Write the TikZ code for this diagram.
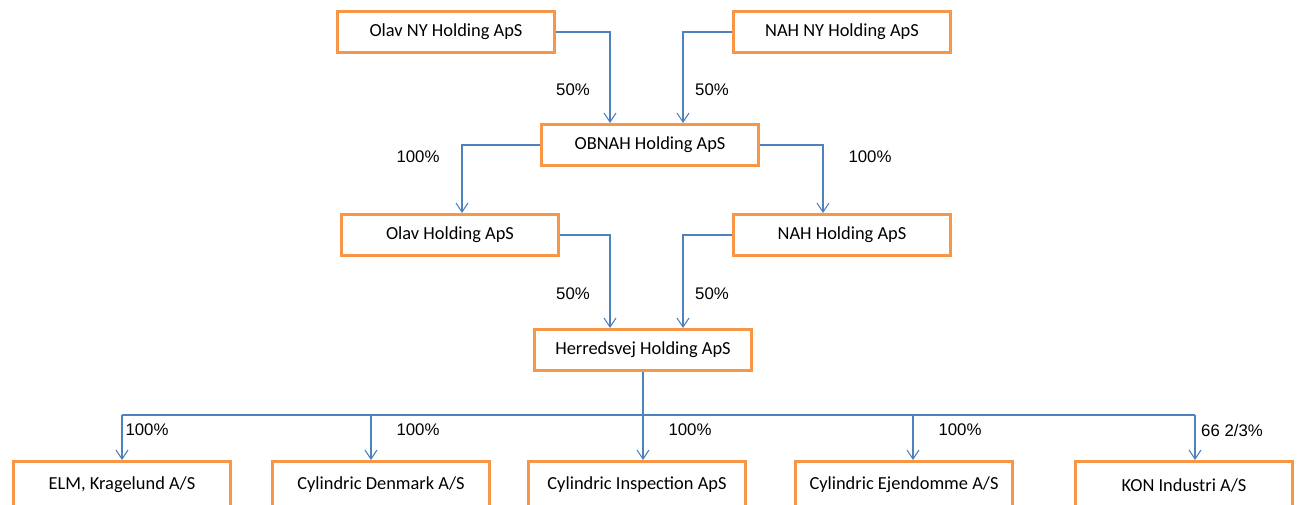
\documentclass[tikz,border=0pt]{standalone}
\usepackage{fontspec}
\setmainfont{Carlito}
\newfontfamily\arialf{Liberation Sans}
\usetikzlibrary{arrows.meta}
\definecolor{boxorange}{RGB}{247,150,70}
\definecolor{linkblue}{RGB}{79,129,189}
\begin{document}
\begin{tikzpicture}[x=1pt,y=-1pt,
  company/.style={draw=boxorange, line width=3pt, fill=white, minimum width=217pt, minimum height=41pt, inner sep=0pt, font=\fontsize{18.4}{21}\selectfont},
  lowbox/.style={company, minimum height=47pt},
  link/.style={draw=linkblue, line width=1.3pt, -{Straight Barb[length=9pt,width=12pt,line width=1.1pt]}},
  bus/.style={draw=linkblue, line width=1.3pt},
  pct/.style={font=\arialf\fontsize{16.8}{20}\selectfont, inner sep=0pt}]
\useasboundingbox (0,0) rectangle (1300,504);
\fill[white] (0,0) rectangle (1300,504);
% boxes
\node[company] (olavny) at (446,32) {Olav NY Holding ApS};
\node[company] (nahny) at (842,32) {NAH NY Holding ApS};
\node[company] (obnah) at (650,145) {OBNAH Holding ApS};
\node[company] (olav) at (450,235) {Olav Holding ApS};
\node[company] (nah) at (842,235) {NAH Holding ApS};
\node[company] (herr) at (643,350) {Herredsvej Holding ApS};
\node[lowbox] (elm) at (122,485) {ELM, Kragelund A/S};
\node[lowbox] (cden) at (381,485) {Cylindric Denmark A/S};
\node[lowbox] (cins) at (637,485) {Cylindric Inspection ApS};
\node[lowbox] (cejd) at (904,485) {Cylindric Ejendomme A/S};
\node[lowbox] (kon) at (1184,485) {KON Industri A/S};
% connectors
\draw[link] (olavny.east) -| ([xshift=-40pt]obnah.north);
\draw[link] (nahny.west) -| ([xshift=33pt]obnah.north);
\draw[link] (obnah.west) -| ([xshift=12pt]olav.north);
\draw[link] (obnah.east) -| ([xshift=-19pt]nah.north);
\draw[link] (olav.east) -| ([xshift=-33pt]herr.north);
\draw[link] (nah.west) -| ([xshift=40pt]herr.north);
\coordinate (b1) at (122,415);
\coordinate (b2) at (371,415);
\coordinate (b3) at (643,415);
\coordinate (b4) at (913,415);
\coordinate (b5) at (1195,415);
\draw[bus] (herr.south) -- (b3);
\draw[bus] (b1) -- (b5);
\draw[link] (b1) -- (b1 |- elm.north);
\draw[link] (b2) -- (b2 |- cden.north);
\draw[link] (b3) -- (b3 |- cins.north);
\draw[link] (b4) -- (b4 |- cejd.north);
\draw[link] (b5) -- (b5 |- kon.north);
% labels
\node[pct] (l1) at (573,90) {50\%};
\node[pct] (l2) at (712,90) {50\%};
\node[pct] (l3) at (418,157) {100\%};
\node[pct] (l4) at (870,157) {100\%};
\node[pct] (l5) at (573,294) {50\%};
\node[pct] (l6) at (712,294) {50\%};
\node[pct] (l7) at (147,430) {100\%};
\node[pct] (l8) at (418,430) {100\%};
\node[pct] (l9) at (690,430) {100\%};
\node[pct] (l10) at (960,430) {100\%};
\node[pct] (l11) at (1232,430) {66 2/3\%};
\end{tikzpicture}
\end{document}
